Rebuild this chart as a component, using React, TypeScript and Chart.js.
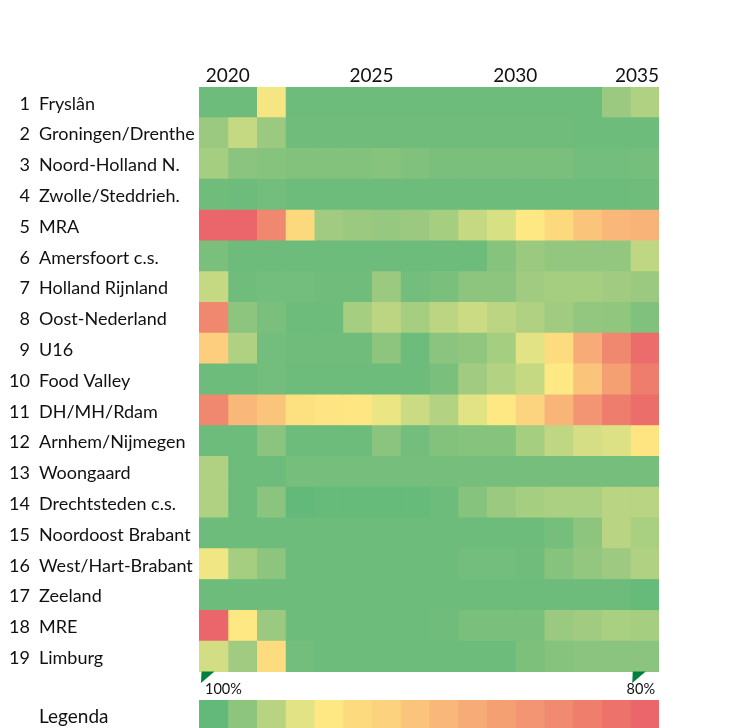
import React, { useEffect, useRef } from "react";
import { Chart, registerables } from "chart.js";

Chart.register(...registerables);

// ---- data ----
const years = [2020, 2021, 2022, 2023, 2024, 2025, 2026, 2027, 2028, 2029, 2030, 2031, 2032, 2033, 2034, 2035];
const yearTicks = [2020, 2025, 2030, 2035];

const regions = [
  "Fryslân",
  "Groningen/Drenthe",
  "Noord-Holland N.",
  "Zwolle/Steddrieh.",
  "MRA",
  "Amersfoort c.s.",
  "Holland Rijnland",
  "Oost-Nederland",
  "U16",
  "Food Valley",
  "DH/MH/Rdam",
  "Arnhem/Nijmegen",
  "Woongaard",
  "Drechtsteden c.s.",
  "Noordoost Brabant",
  "West/Hart-Brabant",
  "Zeeland",
  "MRE",
  "Limburg",
];

// estimated coverage (%) per region and year
const fryslan = [99.7, 99.7, 95.1, 99.7, 99.7, 99.7, 99.7, 99.7, 99.7, 99.7, 99.7, 99.7, 99.7, 99.7, 98.3, 97.6];
const groningenDrenthe = [98.3, 96.9, 98.3, 99.6, 99.6, 99.6, 99.6, 99.6, 99.6, 99.6, 99.6, 99.6, 99.6, 99.7, 99.7, 99.7];
const noordHollandN = [97.9, 98.8, 98.9, 99.0, 99.0, 99.0, 98.9, 99.1, 99.3, 99.3, 99.3, 99.3, 99.3, 99.5, 99.5, 99.4];
const zwolleSteddrieh = [99.6, 99.7, 99.5, 99.7, 99.7, 99.7, 99.7, 99.7, 99.7, 99.7, 99.7, 99.7, 99.7, 99.7, 99.7, 99.6];
const mra = [80.0, 80.0, 83.7, 93.2, 98.1, 98.3, 98.4, 98.3, 97.9, 96.9, 96.3, 94.7, 93.2, 90.7, 89.3, 88.9];
const amersfoort = [99.3, 99.7, 99.7, 99.7, 99.7, 99.7, 99.7, 99.7, 99.7, 99.7, 98.9, 98.3, 98.5, 98.5, 98.5, 97.1];
const hollandRijnland = [96.9, 99.6, 99.5, 99.5, 99.6, 99.6, 98.3, 99.5, 99.3, 98.7, 98.7, 98.1, 97.9, 97.9, 98.1, 98.3];
const oostNederland = [83.7, 98.7, 99.3, 99.7, 99.7, 97.9, 97.2, 97.9, 97.2, 96.7, 97.2, 97.6, 98.1, 98.5, 98.6, 99.1];
const u16 = [91.6, 97.6, 99.5, 99.6, 99.6, 99.6, 98.7, 99.7, 98.8, 98.6, 97.9, 96.0, 93.5, 88.0, 83.7, 80.7];
const foodValley = [99.7, 99.7, 99.5, 99.7, 99.7, 99.7, 99.7, 99.7, 99.3, 98.1, 97.5, 96.9, 94.7, 90.7, 86.7, 82.5];
const dhMhRdam = [83.7, 89.3, 90.7, 93.9, 94.3, 94.5, 95.5, 96.7, 97.5, 96.0, 94.7, 92.1, 89.1, 85.3, 82.5, 80.9];
const arnhemNijmegen = [99.7, 99.7, 98.8, 99.7, 99.7, 99.7, 98.8, 99.5, 99.0, 98.9, 98.9, 97.9, 97.1, 96.4, 96.2, 94.4];
const woongaard = [97.6, 99.7, 99.7, 99.4, 99.4, 99.4, 99.4, 99.4, 99.4, 99.4, 99.4, 99.4, 99.4, 99.4, 99.4, 99.4];
const drechtsteden = [97.6, 99.7, 98.8, 100.0, 99.9, 99.9, 99.9, 99.9, 99.7, 98.9, 98.3, 97.9, 97.7, 97.7, 97.3, 97.3];
const noordoostBrabant = [99.7, 99.7, 99.7, 99.7, 99.7, 99.7, 99.7, 99.7, 99.7, 99.7, 99.7, 99.7, 99.4, 98.7, 97.3, 97.8];
const westHartBrabant = [95.3, 97.9, 98.7, 99.7, 99.7, 99.7, 99.7, 99.7, 99.7, 99.5, 99.5, 99.6, 98.9, 98.5, 98.2, 97.6];
const zeeland = [99.7, 99.7, 99.7, 99.7, 99.7, 99.7, 99.7, 99.7, 99.7, 99.7, 99.7, 99.7, 99.7, 99.7, 99.7, 99.9];
const mre = [80.0, 94.7, 98.3, 99.7, 99.7, 99.7, 99.7, 99.7, 99.6, 99.3, 99.3, 99.3, 98.3, 98.1, 97.8, 97.9];
const limburg = [96.5, 98.1, 93.5, 99.5, 99.7, 99.7, 99.7, 99.7, 99.7, 99.7, 99.7, 99.2, 98.9, 98.8, 98.8, 98.8];

const values = [
  fryslan, groningenDrenthe, noordHollandN, zwolleSteddrieh, mra, amersfoort, hollandRijnland,
  oostNederland, u16, foodValley, dhMhRdam, arnhemNijmegen, woongaard, drechtsteden,
  noordoostBrabant, westHartBrabant, zeeland, mre, limburg,
];

// legend scale: 100% (green) ... 80% (red)
const scaleTop = 100;
const scaleBottom = 80;
const legendMarks = ["100%", "80%"];
const legendTitle = "Legenda";
const legendColors = [
  "#63B97A", "#8EC57E", "#B8D483", "#E1E384", "#FEE883", "#FDDA7E", "#FCD27E", "#FBC47B",
  "#F9B779", "#F7AB76", "#F4A073", "#F39473", "#F08A70", "#EF7E6D", "#ED726C", "#EB666A",
];

// ---- helpers ----
function hexToRgb(h: string): number[] {
  const n = parseInt(h.slice(1), 16);
  return [(n >> 16) & 255, (n >> 8) & 255, n & 255];
}

function colorFor(v: number): string {
  const steps = legendColors.length - 1;
  let t = ((scaleTop - v) / (scaleTop - scaleBottom)) * steps;
  t = Math.max(0, Math.min(steps, t));
  const i = Math.min(steps - 1, Math.floor(t));
  const f = t - i;
  const a = hexToRgb(legendColors[i]);
  const b = hexToRgb(legendColors[i + 1]);
  const c = a.map((av, k) => Math.round(av + (b[k] - av) * f));
  return `rgb(${c[0]},${c[1]},${c[2]})`;
}

const FONT = "Lato";
const TEXT = "#111111";
const MARK = "#00803E";

const mainLabels = {
  id: "mainLabels",
  afterDraw(chart: any) {
    const { ctx, chartArea } = chart;
    const x = chart.scales.x;
    const y = chart.scales.y;
    ctx.save();
    ctx.fillStyle = TEXT;
    // row numbers
    ctx.font = `18px ${FONT}`;
    ctx.textAlign = "right";
    ctx.textBaseline = "middle";
    regions.forEach((_, i) => {
      ctx.fillText(String(i + 1), 30, y.getPixelForValue(i) + 1.5);
    });
    // year labels (centred over the first two columns of each 5-year block, kept inside the grid)
    ctx.font = `19px ${FONT}`;
    ctx.textAlign = "left";
    ctx.textBaseline = "alphabetic";
    yearTicks.forEach((yr) => {
      const j = years.indexOf(yr);
      const s = String(yr);
      const w = ctx.measureText(s).width;
      const cx = x.getPixelForValue(j + 1);
      const left = Math.min(cx - w / 2, chartArea.right - w);
      ctx.fillText(s, left, chartArea.top - 5);
    });
    // scale markers below the grid
    const top = chartArea.bottom - 0.5;
    const markIdx = [0, legendColors.length - 1];
    ctx.fillStyle = MARK;
    markIdx.forEach((k) => {
      const x0 = x.getPixelForValue(k);
      ctx.beginPath();
      ctx.moveTo(x0 + 2.5, top);
      ctx.lineTo(x0 + 15.5, top);
      ctx.lineTo(x0 + 2, top + 11.5);
      ctx.closePath();
      ctx.fill();
    });
    ctx.fillStyle = TEXT;
    ctx.font = `14.5px ${FONT}`;
    ctx.textAlign = "left";
    ctx.fillText(legendMarks[0], x.getPixelForValue(0) + 6, chartArea.bottom + 22);
    ctx.textAlign = "right";
    ctx.fillText(legendMarks[1], chartArea.right - 4, chartArea.bottom + 22);
    ctx.restore();
  },
};

const legendLabel = {
  id: "legendLabel",
  afterDraw(chart: any) {
    const { ctx } = chart;
    const y = chart.scales.y;
    ctx.save();
    ctx.fillStyle = TEXT;
    ctx.font = `19px ${FONT}`;
    ctx.textAlign = "left";
    ctx.textBaseline = "middle";
    ctx.fillText(legendTitle, 39, y.getPixelForValue(0) + 3);
    ctx.restore();
  },
};

export default function App() {
  const mainRef = useRef<HTMLCanvasElement>(null);
  const legRef = useRef<HTMLCanvasElement>(null);

  useEffect(() => {
    const main = new Chart(mainRef.current!, {
      type: "bar",
      data: {
        labels: regions,
        datasets: years.map((yr, j) => ({
          label: String(yr),
          data: regions.map(() => 1),
          backgroundColor: values.map((row) => colorFor(row[j])),
          borderWidth: 0,
          barPercentage: 1,
          categoryPercentage: 1,
          inflateAmount: 0.5,
        })),
      },
      options: {
        indexAxis: "y",
        responsive: false,
        animation: false,
        events: [],
        layout: { padding: { left: 39, right: 70, top: 87, bottom: 28 } },
        plugins: { legend: { display: false }, tooltip: { enabled: false } },
        scales: {
          x: { type: "linear", min: 0, max: years.length, stacked: true, display: false },
          y: {
            type: "category",
            stacked: true,
            grid: { display: false },
            border: { display: false },
            ticks: {
              crossAlign: "far",
              color: TEXT,
              font: { family: FONT, size: 18 },
              padding: 0,
              labelOffset: 1.5,
            },
            afterFit: (s: any) => {
              s.width = 160;
            },
          },
        },
      } as any,
      plugins: [mainLabels],
    });

    const legend = new Chart(legRef.current!, {
      type: "bar",
      data: {
        labels: [legendTitle],
        datasets: legendColors.map((c) => ({
          data: [1],
          backgroundColor: c,
          borderWidth: 0,
          barPercentage: 1,
          categoryPercentage: 1,
          barThickness: "flex",
          inflateAmount: 0.5,
        })),
      },
      options: {
        indexAxis: "y",
        responsive: false,
        animation: false,
        events: [],
        layout: { padding: { left: 199, right: 70, top: 0, bottom: 0 } },
        plugins: { legend: { display: false }, tooltip: { enabled: false } },
        scales: {
          x: { type: "linear", min: 0, max: legendColors.length, stacked: true, display: false },
          y: { type: "category", stacked: true, display: false },
        },
      } as any,
      plugins: [legendLabel],
    });

    return () => {
      main.destroy();
      legend.destroy();
    };
  }, []);

  return (
    <div>
      <canvas
        ref={mainRef}
        width={729}
        height={700}
        style={{ position: "absolute", left: 0, top: 0, width: 729, height: 700 }}
      />
      <canvas
        ref={legRef}
        width={729}
        height={28}
        style={{ position: "absolute", left: 0, top: 700, width: 729, height: 28 }}
      />
    </div>
  );
}
